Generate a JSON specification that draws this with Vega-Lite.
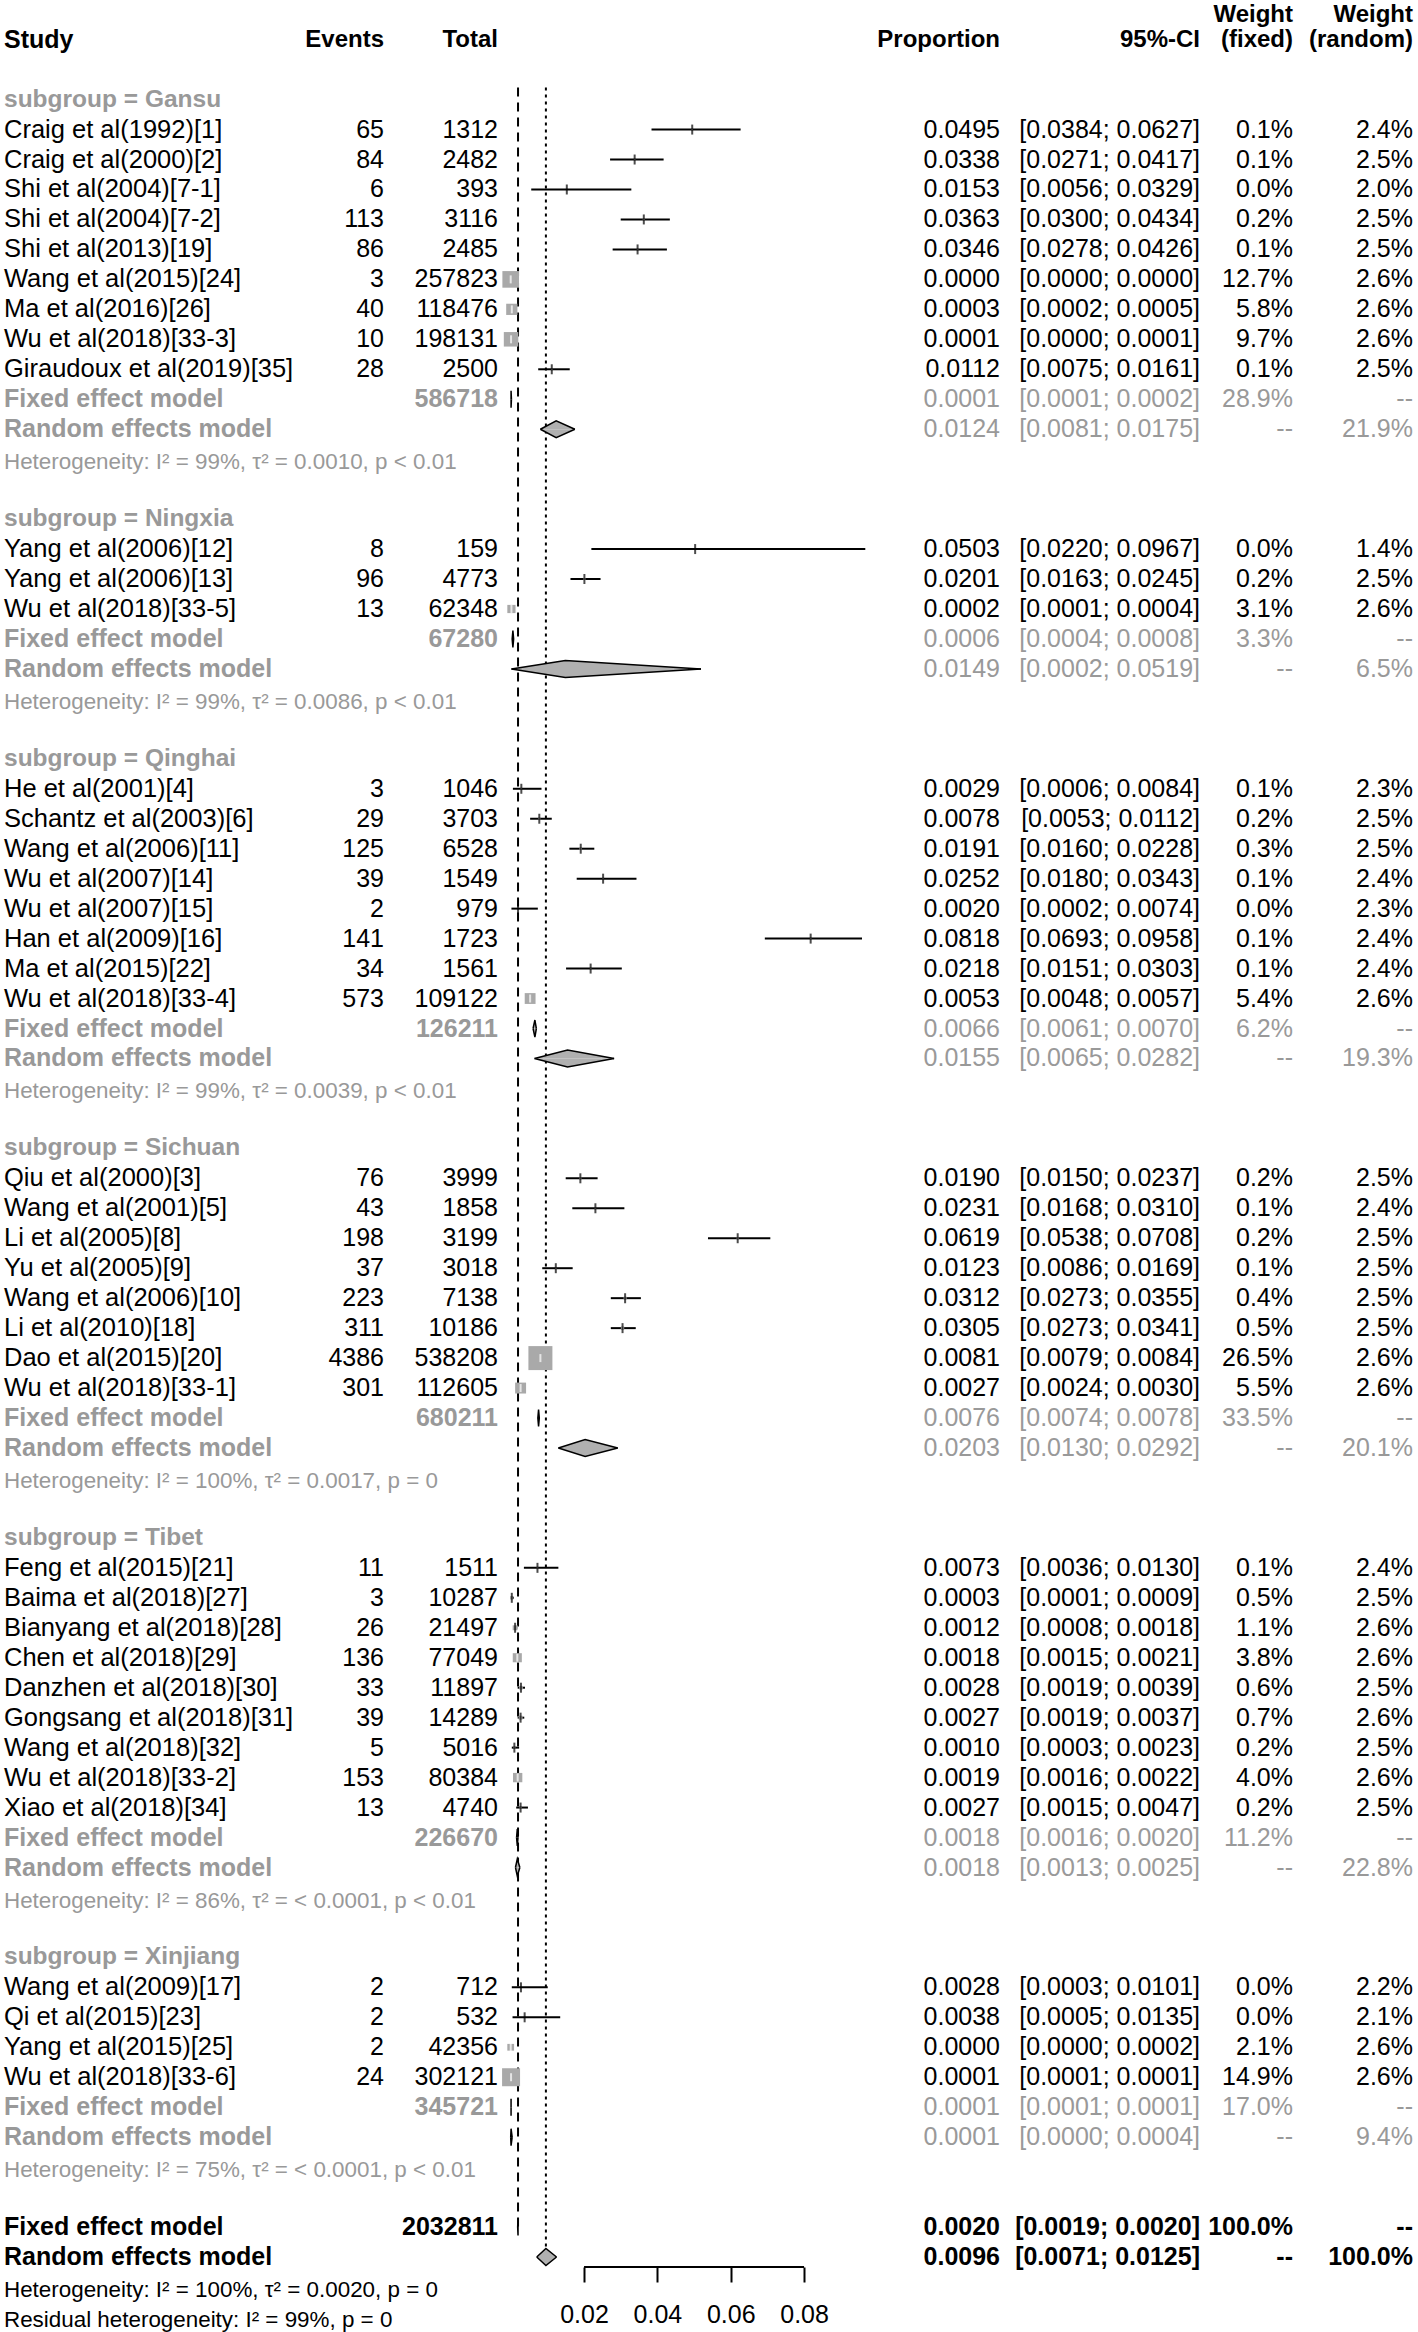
{
 "$schema": "https://vega.github.io/schema/vega-lite/v6.json",
 "padding": 0,
 "spacing": 0,
 "bounds": "flush",
 "background": "white",
 "config": {
  "view": {"stroke": null},
  "text": {"font": "Liberation Sans"},
  "axisX": {"domain": false, "grid": false, "tickSize": 15, "tickWidth": 2, "tickColor": "black", "labelFont": "Liberation Sans", "labelFontSize": 25, "labelColor": "black", "labelPadding": 20, "labelFlush": false, "labelOverlap": false}
 },
 "datasets": {
  "head": [{"row": 0, "study": "Study", "ev": "Events", "tot": "Total", "prop": "Proportion", "ci": "95%-CI", "wf": "(fixed)", "wr": "(random)", "w": "Weight"}],
  "dshape": [{"vk": "lo", "t": 0, "b": 0}, {"vk": "est", "t": 1, "b": -1}, {"vk": "up", "t": 0, "b": 0}],
  "rows": [
   {"row": 2, "kind": "sub", "label": "subgroup = Gansu"},
   {"row": 3, "kind": "study", "label": "Craig et al(1992)[1]", "ev": 65, "tot": 1312, "est": 0.0495, "lo": 0.0384, "up": 0.0627, "ci": "[0.0384; 0.0627]", "wf": 0.1, "wft": "0.1%", "wrt": "2.4%"},
   {"row": 4, "kind": "study", "label": "Craig et al(2000)[2]", "ev": 84, "tot": 2482, "est": 0.0338, "lo": 0.0271, "up": 0.0417, "ci": "[0.0271; 0.0417]", "wf": 0.1, "wft": "0.1%", "wrt": "2.5%"},
   {"row": 5, "kind": "study", "label": "Shi et al(2004)[7-1]", "ev": 6, "tot": 393, "est": 0.0153, "lo": 0.0056, "up": 0.0329, "ci": "[0.0056; 0.0329]", "wf": 0.0, "wft": "0.0%", "wrt": "2.0%"},
   {"row": 6, "kind": "study", "label": "Shi et al(2004)[7-2]", "ev": 113, "tot": 3116, "est": 0.0363, "lo": 0.0300, "up": 0.0434, "ci": "[0.0300; 0.0434]", "wf": 0.2, "wft": "0.2%", "wrt": "2.5%"},
   {"row": 7, "kind": "study", "label": "Shi et al(2013)[19]", "ev": 86, "tot": 2485, "est": 0.0346, "lo": 0.0278, "up": 0.0426, "ci": "[0.0278; 0.0426]", "wf": 0.1, "wft": "0.1%", "wrt": "2.5%"},
   {"row": 8, "kind": "study", "label": "Wang et al(2015)[24]", "ev": 3, "tot": 257823, "est": 0.0000, "lo": 0.0000, "up": 0.0000, "ci": "[0.0000; 0.0000]", "wf": 12.7, "wft": "12.7%", "wrt": "2.6%"},
   {"row": 9, "kind": "study", "label": "Ma et al(2016)[26]", "ev": 40, "tot": 118476, "est": 0.0003, "lo": 0.0002, "up": 0.0005, "ci": "[0.0002; 0.0005]", "wf": 5.8, "wft": "5.8%", "wrt": "2.6%"},
   {"row": 10, "kind": "study", "label": "Wu et al(2018)[33-3]", "ev": 10, "tot": 198131, "est": 0.0001, "lo": 0.0000, "up": 0.0001, "ci": "[0.0000; 0.0001]", "wf": 9.7, "wft": "9.7%", "wrt": "2.6%"},
   {"row": 11, "kind": "study", "label": "Giraudoux et al(2019)[35]", "ev": 28, "tot": 2500, "est": 0.0112, "lo": 0.0075, "up": 0.0161, "ci": "[0.0075; 0.0161]", "wf": 0.1, "wft": "0.1%", "wrt": "2.5%"},
   {"row": 12, "kind": "fix", "label": "Fixed effect model", "tot": 586718, "est": 0.0001, "lo": 0.0001, "up": 0.0002, "ci": "[0.0001; 0.0002]", "wft": "28.9%", "wrt": "--"},
   {"row": 13, "kind": "ran", "label": "Random effects model", "est": 0.0124, "lo": 0.0081, "up": 0.0175, "ci": "[0.0081; 0.0175]", "wft": "--", "wrt": "21.9%"},
   {"row": 14, "kind": "het", "label": "Heterogeneity: I² = 99%, τ² = 0.0010, p < 0.01"},
   {"row": 16, "kind": "sub", "label": "subgroup = Ningxia"},
   {"row": 17, "kind": "study", "label": "Yang et al(2006)[12]", "ev": 8, "tot": 159, "est": 0.0503, "lo": 0.0220, "up": 0.0967, "ci": "[0.0220; 0.0967]", "wf": 0.0, "wft": "0.0%", "wrt": "1.4%"},
   {"row": 18, "kind": "study", "label": "Yang et al(2006)[13]", "ev": 96, "tot": 4773, "est": 0.0201, "lo": 0.0163, "up": 0.0245, "ci": "[0.0163; 0.0245]", "wf": 0.2, "wft": "0.2%", "wrt": "2.5%"},
   {"row": 19, "kind": "study", "label": "Wu et al(2018)[33-5]", "ev": 13, "tot": 62348, "est": 0.0002, "lo": 0.0001, "up": 0.0004, "ci": "[0.0001; 0.0004]", "wf": 3.1, "wft": "3.1%", "wrt": "2.6%"},
   {"row": 20, "kind": "fix", "label": "Fixed effect model", "tot": 67280, "est": 0.0006, "lo": 0.0004, "up": 0.0008, "ci": "[0.0004; 0.0008]", "wft": "3.3%", "wrt": "--"},
   {"row": 21, "kind": "ran", "label": "Random effects model", "est": 0.0149, "lo": 0.0002, "up": 0.0519, "ci": "[0.0002; 0.0519]", "wft": "--", "wrt": "6.5%"},
   {"row": 22, "kind": "het", "label": "Heterogeneity: I² = 99%, τ² = 0.0086, p < 0.01"},
   {"row": 24, "kind": "sub", "label": "subgroup = Qinghai"},
   {"row": 25, "kind": "study", "label": "He et al(2001)[4]", "ev": 3, "tot": 1046, "est": 0.0029, "lo": 0.0006, "up": 0.0084, "ci": "[0.0006; 0.0084]", "wf": 0.1, "wft": "0.1%", "wrt": "2.3%"},
   {"row": 26, "kind": "study", "label": "Schantz et al(2003)[6]", "ev": 29, "tot": 3703, "est": 0.0078, "lo": 0.0053, "up": 0.0112, "ci": "[0.0053; 0.0112]", "wf": 0.2, "wft": "0.2%", "wrt": "2.5%"},
   {"row": 27, "kind": "study", "label": "Wang et al(2006)[11]", "ev": 125, "tot": 6528, "est": 0.0191, "lo": 0.0160, "up": 0.0228, "ci": "[0.0160; 0.0228]", "wf": 0.3, "wft": "0.3%", "wrt": "2.5%"},
   {"row": 28, "kind": "study", "label": "Wu et al(2007)[14]", "ev": 39, "tot": 1549, "est": 0.0252, "lo": 0.0180, "up": 0.0343, "ci": "[0.0180; 0.0343]", "wf": 0.1, "wft": "0.1%", "wrt": "2.4%"},
   {"row": 29, "kind": "study", "label": "Wu et al(2007)[15]", "ev": 2, "tot": 979, "est": 0.0020, "lo": 0.0002, "up": 0.0074, "ci": "[0.0002; 0.0074]", "wf": 0.0, "wft": "0.0%", "wrt": "2.3%"},
   {"row": 30, "kind": "study", "label": "Han et al(2009)[16]", "ev": 141, "tot": 1723, "est": 0.0818, "lo": 0.0693, "up": 0.0958, "ci": "[0.0693; 0.0958]", "wf": 0.1, "wft": "0.1%", "wrt": "2.4%"},
   {"row": 31, "kind": "study", "label": "Ma et al(2015)[22]", "ev": 34, "tot": 1561, "est": 0.0218, "lo": 0.0151, "up": 0.0303, "ci": "[0.0151; 0.0303]", "wf": 0.1, "wft": "0.1%", "wrt": "2.4%"},
   {"row": 32, "kind": "study", "label": "Wu et al(2018)[33-4]", "ev": 573, "tot": 109122, "est": 0.0053, "lo": 0.0048, "up": 0.0057, "ci": "[0.0048; 0.0057]", "wf": 5.4, "wft": "5.4%", "wrt": "2.6%"},
   {"row": 33, "kind": "fix", "label": "Fixed effect model", "tot": 126211, "est": 0.0066, "lo": 0.0061, "up": 0.0070, "ci": "[0.0061; 0.0070]", "wft": "6.2%", "wrt": "--"},
   {"row": 34, "kind": "ran", "label": "Random effects model", "est": 0.0155, "lo": 0.0065, "up": 0.0282, "ci": "[0.0065; 0.0282]", "wft": "--", "wrt": "19.3%"},
   {"row": 35, "kind": "het", "label": "Heterogeneity: I² = 99%, τ² = 0.0039, p < 0.01"},
   {"row": 37, "kind": "sub", "label": "subgroup = Sichuan"},
   {"row": 38, "kind": "study", "label": "Qiu et al(2000)[3]", "ev": 76, "tot": 3999, "est": 0.0190, "lo": 0.0150, "up": 0.0237, "ci": "[0.0150; 0.0237]", "wf": 0.2, "wft": "0.2%", "wrt": "2.5%"},
   {"row": 39, "kind": "study", "label": "Wang et al(2001)[5]", "ev": 43, "tot": 1858, "est": 0.0231, "lo": 0.0168, "up": 0.0310, "ci": "[0.0168; 0.0310]", "wf": 0.1, "wft": "0.1%", "wrt": "2.4%"},
   {"row": 40, "kind": "study", "label": "Li et al(2005)[8]", "ev": 198, "tot": 3199, "est": 0.0619, "lo": 0.0538, "up": 0.0708, "ci": "[0.0538; 0.0708]", "wf": 0.2, "wft": "0.2%", "wrt": "2.5%"},
   {"row": 41, "kind": "study", "label": "Yu et al(2005)[9]", "ev": 37, "tot": 3018, "est": 0.0123, "lo": 0.0086, "up": 0.0169, "ci": "[0.0086; 0.0169]", "wf": 0.1, "wft": "0.1%", "wrt": "2.5%"},
   {"row": 42, "kind": "study", "label": "Wang et al(2006)[10]", "ev": 223, "tot": 7138, "est": 0.0312, "lo": 0.0273, "up": 0.0355, "ci": "[0.0273; 0.0355]", "wf": 0.4, "wft": "0.4%", "wrt": "2.5%"},
   {"row": 43, "kind": "study", "label": "Li et al(2010)[18]", "ev": 311, "tot": 10186, "est": 0.0305, "lo": 0.0273, "up": 0.0341, "ci": "[0.0273; 0.0341]", "wf": 0.5, "wft": "0.5%", "wrt": "2.5%"},
   {"row": 44, "kind": "study", "label": "Dao et al(2015)[20]", "ev": 4386, "tot": 538208, "est": 0.0081, "lo": 0.0079, "up": 0.0084, "ci": "[0.0079; 0.0084]", "wf": 26.5, "wft": "26.5%", "wrt": "2.6%"},
   {"row": 45, "kind": "study", "label": "Wu et al(2018)[33-1]", "ev": 301, "tot": 112605, "est": 0.0027, "lo": 0.0024, "up": 0.0030, "ci": "[0.0024; 0.0030]", "wf": 5.5, "wft": "5.5%", "wrt": "2.6%"},
   {"row": 46, "kind": "fix", "label": "Fixed effect model", "tot": 680211, "est": 0.0076, "lo": 0.0074, "up": 0.0078, "ci": "[0.0074; 0.0078]", "wft": "33.5%", "wrt": "--"},
   {"row": 47, "kind": "ran", "label": "Random effects model", "est": 0.0203, "lo": 0.0130, "up": 0.0292, "ci": "[0.0130; 0.0292]", "wft": "--", "wrt": "20.1%"},
   {"row": 48, "kind": "het", "label": "Heterogeneity: I² = 100%, τ² = 0.0017, p = 0"},
   {"row": 50, "kind": "sub", "label": "subgroup = Tibet"},
   {"row": 51, "kind": "study", "label": "Feng et al(2015)[21]", "ev": 11, "tot": 1511, "est": 0.0073, "lo": 0.0036, "up": 0.0130, "ci": "[0.0036; 0.0130]", "wf": 0.1, "wft": "0.1%", "wrt": "2.4%"},
   {"row": 52, "kind": "study", "label": "Baima et al(2018)[27]", "ev": 3, "tot": 10287, "est": 0.0003, "lo": 0.0001, "up": 0.0009, "ci": "[0.0001; 0.0009]", "wf": 0.5, "wft": "0.5%", "wrt": "2.5%"},
   {"row": 53, "kind": "study", "label": "Bianyang et al(2018)[28]", "ev": 26, "tot": 21497, "est": 0.0012, "lo": 0.0008, "up": 0.0018, "ci": "[0.0008; 0.0018]", "wf": 1.1, "wft": "1.1%", "wrt": "2.6%"},
   {"row": 54, "kind": "study", "label": "Chen et al(2018)[29]", "ev": 136, "tot": 77049, "est": 0.0018, "lo": 0.0015, "up": 0.0021, "ci": "[0.0015; 0.0021]", "wf": 3.8, "wft": "3.8%", "wrt": "2.6%"},
   {"row": 55, "kind": "study", "label": "Danzhen et al(2018)[30]", "ev": 33, "tot": 11897, "est": 0.0028, "lo": 0.0019, "up": 0.0039, "ci": "[0.0019; 0.0039]", "wf": 0.6, "wft": "0.6%", "wrt": "2.5%"},
   {"row": 56, "kind": "study", "label": "Gongsang et al(2018)[31]", "ev": 39, "tot": 14289, "est": 0.0027, "lo": 0.0019, "up": 0.0037, "ci": "[0.0019; 0.0037]", "wf": 0.7, "wft": "0.7%", "wrt": "2.6%"},
   {"row": 57, "kind": "study", "label": "Wang et al(2018)[32]", "ev": 5, "tot": 5016, "est": 0.0010, "lo": 0.0003, "up": 0.0023, "ci": "[0.0003; 0.0023]", "wf": 0.2, "wft": "0.2%", "wrt": "2.5%"},
   {"row": 58, "kind": "study", "label": "Wu et al(2018)[33-2]", "ev": 153, "tot": 80384, "est": 0.0019, "lo": 0.0016, "up": 0.0022, "ci": "[0.0016; 0.0022]", "wf": 4.0, "wft": "4.0%", "wrt": "2.6%"},
   {"row": 59, "kind": "study", "label": "Xiao et al(2018)[34]", "ev": 13, "tot": 4740, "est": 0.0027, "lo": 0.0015, "up": 0.0047, "ci": "[0.0015; 0.0047]", "wf": 0.2, "wft": "0.2%", "wrt": "2.5%"},
   {"row": 60, "kind": "fix", "label": "Fixed effect model", "tot": 226670, "est": 0.0018, "lo": 0.0016, "up": 0.0020, "ci": "[0.0016; 0.0020]", "wft": "11.2%", "wrt": "--"},
   {"row": 61, "kind": "ran", "label": "Random effects model", "est": 0.0018, "lo": 0.0013, "up": 0.0025, "ci": "[0.0013; 0.0025]", "wft": "--", "wrt": "22.8%"},
   {"row": 62, "kind": "het", "label": "Heterogeneity: I² = 86%, τ² = < 0.0001, p < 0.01"},
   {"row": 64, "kind": "sub", "label": "subgroup = Xinjiang"},
   {"row": 65, "kind": "study", "label": "Wang et al(2009)[17]", "ev": 2, "tot": 712, "est": 0.0028, "lo": 0.0003, "up": 0.0101, "ci": "[0.0003; 0.0101]", "wf": 0.0, "wft": "0.0%", "wrt": "2.2%"},
   {"row": 66, "kind": "study", "label": "Qi et al(2015)[23]", "ev": 2, "tot": 532, "est": 0.0038, "lo": 0.0005, "up": 0.0135, "ci": "[0.0005; 0.0135]", "wf": 0.0, "wft": "0.0%", "wrt": "2.1%"},
   {"row": 67, "kind": "study", "label": "Yang et al(2015)[25]", "ev": 2, "tot": 42356, "est": 0.0000, "lo": 0.0000, "up": 0.0002, "ci": "[0.0000; 0.0002]", "wf": 2.1, "wft": "2.1%", "wrt": "2.6%"},
   {"row": 68, "kind": "study", "label": "Wu et al(2018)[33-6]", "ev": 24, "tot": 302121, "est": 0.0001, "lo": 0.0001, "up": 0.0001, "ci": "[0.0001; 0.0001]", "wf": 14.9, "wft": "14.9%", "wrt": "2.6%"},
   {"row": 69, "kind": "fix", "label": "Fixed effect model", "tot": 345721, "est": 0.0001, "lo": 0.0001, "up": 0.0001, "ci": "[0.0001; 0.0001]", "wft": "17.0%", "wrt": "--"},
   {"row": 70, "kind": "ran", "label": "Random effects model", "est": 0.0001, "lo": 0.0000, "up": 0.0004, "ci": "[0.0000; 0.0004]", "wft": "--", "wrt": "9.4%"},
   {"row": 71, "kind": "het", "label": "Heterogeneity: I² = 75%, τ² = < 0.0001, p < 0.01"},
   {"row": 73, "kind": "ofix", "label": "Fixed effect model", "tot": 2032811, "est": 0.0020, "lo": 0.0019, "up": 0.0020, "ci": "[0.0019; 0.0020]", "wft": "100.0%", "wrt": "--"},
   {"row": 74, "kind": "oran", "label": "Random effects model", "est": 0.0096, "lo": 0.0071, "up": 0.0125, "ci": "[0.0071; 0.0125]", "wft": "--", "wrt": "100.0%"},
   {"row": 75, "kind": "ohet", "label": "Heterogeneity: I² = 100%, τ² = 0.0020, p = 0"},
   {"row": 76, "kind": "ohet", "label": "Residual heterogeneity: I² = 99%, p = 0"}
  ]
 },
 "hconcat": [
  {
   "width": 300, "height": 2332,
   "encoding": {"y": {"field": "row", "type": "ordinal", "axis": null, "scale": {"type": "band", "domain": [0,1,2,3,4,5,6,7,8,9,10,11,12,13,14,15,16,17,18,19,20,21,22,23,24,25,26,27,28,29,30,31,32,33,34,35,36,37,38,39,40,41,42,43,44,45,46,47,48,49,50,51,52,53,54,55,56,57,58,59,60,61,62,63,64,65,66,67,68,69,70,71,72,73,74,75,76], "paddingInner": 0, "paddingOuter": 0.412, "align": 1}}},
   "layer": [
    {"data": {"name": "head"}, "mark": {"type": "text", "align": "left", "dx": 4, "fontSize": 25, "fontWeight": "bold", "color": "black"}, "encoding": {"x": {"value": 0}, "text": {"field": "study", "type": "nominal"}}},
    {"data": {"name": "rows"}, "transform": [{"filter": "datum.kind == 'study'"}], "mark": {"type": "text", "align": "left", "dx": 4, "fontSize": 25.5, "color": "black"}, "encoding": {"x": {"value": 0}, "text": {"field": "label", "type": "nominal"}}},
    {"data": {"name": "rows"}, "transform": [{"filter": "datum.kind == 'sub'"}], "mark": {"type": "text", "align": "left", "dx": 4, "fontSize": 24.5, "fontWeight": "bold"}, "encoding": {"x": {"value": 0}, "text": {"field": "label", "type": "nominal"}, "color": {"field": "kind", "type": "nominal", "legend": null, "scale": {"domain": ["study","sub","fix","ran","het","ofix","oran","ohet"], "range": ["#000000","#999999","#999999","#999999","#999999","#000000","#000000","#000000"]}}}},
    {"data": {"name": "rows"}, "transform": [{"filter": "datum.kind == 'fix' || datum.kind == 'ran' || datum.kind == 'ofix' || datum.kind == 'oran'"}], "mark": {"type": "text", "align": "left", "dx": 4, "fontSize": 25, "fontWeight": "bold"}, "encoding": {"x": {"value": 0}, "text": {"field": "label", "type": "nominal"}, "color": {"field": "kind", "type": "nominal", "legend": null}}},
    {"data": {"name": "rows"}, "transform": [{"filter": "datum.kind == 'het' || datum.kind == 'ohet'"}], "mark": {"type": "text", "align": "left", "dx": 4, "dy": 3, "fontSize": 22.4}, "encoding": {"x": {"value": 0}, "text": {"field": "label", "type": "nominal"}, "color": {"field": "kind", "type": "nominal", "legend": null}}}
   ]
  },
  {
   "width": 84, "height": 2332,
   "encoding": {"y": {"field": "row", "type": "ordinal", "axis": null, "scale": {"type": "band", "domain": [0,1,2,3,4,5,6,7,8,9,10,11,12,13,14,15,16,17,18,19,20,21,22,23,24,25,26,27,28,29,30,31,32,33,34,35,36,37,38,39,40,41,42,43,44,45,46,47,48,49,50,51,52,53,54,55,56,57,58,59,60,61,62,63,64,65,66,67,68,69,70,71,72,73,74,75,76], "paddingInner": 0, "paddingOuter": 0.412, "align": 1}}},
   "layer": [
    {"data": {"name": "head"}, "mark": {"type": "text", "align": "right", "fontSize": 24, "fontWeight": "bold", "color": "black"}, "encoding": {"x": {"value": "width"}, "text": {"field": "ev", "type": "nominal"}}},
    {"data": {"name": "rows"}, "transform": [{"filter": "datum.kind == 'study'"}], "mark": {"type": "text", "align": "right", "fontSize": 25, "color": "black"}, "encoding": {"x": {"value": "width"}, "text": {"field": "ev", "type": "nominal"}}}
   ]
  },
  {
   "width": 114, "height": 2332,
   "encoding": {"y": {"field": "row", "type": "ordinal", "axis": null, "scale": {"type": "band", "domain": [0,1,2,3,4,5,6,7,8,9,10,11,12,13,14,15,16,17,18,19,20,21,22,23,24,25,26,27,28,29,30,31,32,33,34,35,36,37,38,39,40,41,42,43,44,45,46,47,48,49,50,51,52,53,54,55,56,57,58,59,60,61,62,63,64,65,66,67,68,69,70,71,72,73,74,75,76], "paddingInner": 0, "paddingOuter": 0.412, "align": 1}}},
   "layer": [
    {"data": {"name": "head"}, "mark": {"type": "text", "align": "right", "fontSize": 24, "fontWeight": "bold", "color": "black"}, "encoding": {"x": {"value": "width"}, "text": {"field": "tot", "type": "nominal"}}},
    {"data": {"name": "rows"}, "transform": [{"filter": "datum.kind == 'study'"}], "mark": {"type": "text", "align": "right", "fontSize": 25, "color": "black"}, "encoding": {"x": {"value": "width"}, "text": {"field": "tot", "type": "nominal"}}},
    {"data": {"name": "rows"}, "transform": [{"filter": "datum.kind == 'fix' || datum.kind == 'ofix'"}], "mark": {"type": "text", "align": "right", "fontSize": 25, "fontWeight": "bold"}, "encoding": {"x": {"value": "width"}, "text": {"field": "tot", "type": "nominal"}, "color": {"field": "kind", "type": "nominal", "legend": null}}}
   ]
  },
  {
   "width": 382, "height": 2272,
   "data": {"name": "rows"},
   "encoding": {"y": {"field": "row", "type": "ordinal", "axis": null, "scale": {"type": "band", "domain": [0,1,2,3,4,5,6,7,8,9,10,11,12,13,14,15,16,17,18,19,20,21,22,23,24,25,26,27,28,29,30,31,32,33,34,35,36,37,38,39,40,41,42,43,44,45,46,47,48,49,50,51,52,53,54,55,56,57,58,59,60,61,62,63,64,65,66,67,68,69,70,71,72,73,74], "paddingInner": 0, "paddingOuter": 0.412, "align": 1}}},
   "layer": [
    {"transform": [{"filter": "datum.kind == 'ofix'"}], "mark": {"type": "rule", "strokeDash": [9, 6], "strokeWidth": 2, "color": "black"}, "encoding": {"x": {"field": "est", "type": "quantitative", "scale": {"domain": [-0.003463, 0.100709], "nice": false, "zero": false}, "axis": {"values": [0.02, 0.04, 0.06, 0.08], "title": null, "format": ".2f", "offset": -5}}, "y": {"datum": 2, "type": "ordinal", "bandPosition": 0.1}, "y2": {"field": "row"}}},
    {"transform": [{"filter": "datum.kind == 'oran'"}], "mark": {"type": "rule", "strokeDash": [3, 4], "strokeWidth": 2, "color": "black"}, "encoding": {"x": {"field": "est", "type": "quantitative", "axis": {"values": [0.02, 0.04, 0.06, 0.08], "title": null, "format": ".2f", "offset": -5}}, "y": {"datum": 2, "type": "ordinal", "bandPosition": 0.1}, "y2": {"field": "row"}}},
    {"transform": [{"filter": "datum.kind == 'study'"}], "mark": {"type": "rule", "strokeWidth": 2, "color": "black"}, "encoding": {"x": {"field": "lo", "type": "quantitative", "axis": {"values": [0.02, 0.04, 0.06, 0.08], "title": null, "format": ".2f", "offset": -5}}, "x2": {"field": "up"}}},
    {"transform": [{"filter": "datum.kind == 'study' && datum.wf > 0"}], "mark": {"type": "square", "color": "#A9A9A9", "opacity": 1, "filled": true}, "encoding": {"x": {"field": "est", "type": "quantitative", "axis": {"values": [0.02, 0.04, 0.06, 0.08], "title": null, "format": ".2f", "offset": -5}}, "size": {"field": "wf", "type": "quantitative", "legend": null, "scale": {"domain": [0, 26.5], "range": [0, 576]}}}},
    {"transform": [{"filter": "datum.kind == 'study' && datum.wf < 2"}], "mark": {"type": "tick", "color": "black", "thickness": 2, "size": 10}, "encoding": {"x": {"field": "est", "type": "quantitative", "axis": {"values": [0.02, 0.04, 0.06, 0.08], "title": null, "format": ".2f", "offset": -5}}}},
    {"transform": [{"filter": "datum.kind == 'study' && datum.wf >= 2"}], "mark": {"type": "tick", "color": "white", "thickness": 2, "size": 8}, "encoding": {"x": {"field": "est", "type": "quantitative", "axis": {"values": [0.02, 0.04, 0.06, 0.08], "title": null, "format": ".2f", "offset": -5}}}},
    {"transform": [{"filter": "datum.kind == 'fix' || datum.kind == 'ran' || datum.kind == 'ofix' || datum.kind == 'oran'"}, {"fold": ["lo", "est", "up"], "as": ["vk", "vx"]}, {"lookup": "vk", "from": {"data": {"name": "dshape"}, "key": "vk", "fields": ["t", "b"]}}], "mark": {"type": "area", "orient": "vertical", "color": "#B0B0B0", "opacity": 1}, "encoding": {"x": {"field": "vx", "type": "quantitative", "stack": null, "axis": {"values": [0.02, 0.04, 0.06, 0.08], "title": null, "format": ".2f", "offset": -5}}, "y2": {"field": "row"}, "yOffset": {"field": "t", "type": "quantitative", "scale": {"domain": [-1, 1], "range": [23.5, 6.5]}}, "detail": {"field": "row"}}},
    {"transform": [{"filter": "datum.kind == 'fix' || datum.kind == 'ran' || datum.kind == 'ofix' || datum.kind == 'oran'"}, {"fold": ["lo", "est", "up"], "as": ["vk", "vx"]}, {"lookup": "vk", "from": {"data": {"name": "dshape"}, "key": "vk", "fields": ["t", "b"]}}], "mark": {"type": "area", "orient": "vertical", "color": "#B0B0B0", "opacity": 1}, "encoding": {"x": {"field": "vx", "type": "quantitative", "stack": null, "axis": {"values": [0.02, 0.04, 0.06, 0.08], "title": null, "format": ".2f", "offset": -5}}, "y2": {"field": "row"}, "yOffset": {"field": "b", "type": "quantitative"}, "detail": {"field": "row"}}},
    {"transform": [{"filter": "datum.kind == 'fix' || datum.kind == 'ran' || datum.kind == 'ofix' || datum.kind == 'oran'"}, {"fold": ["lo", "est", "up"], "as": ["vk", "vx"]}, {"lookup": "vk", "from": {"data": {"name": "dshape"}, "key": "vk", "fields": ["t", "b"]}}], "mark": {"type": "line", "color": "black", "strokeWidth": 1.5}, "encoding": {"x": {"field": "vx", "type": "quantitative", "axis": {"values": [0.02, 0.04, 0.06, 0.08], "title": null, "format": ".2f", "offset": -5}}, "yOffset": {"field": "t", "type": "quantitative"}, "detail": {"field": "row"}, "order": {"field": "vx", "type": "quantitative"}}},
    {"transform": [{"filter": "datum.kind == 'fix' || datum.kind == 'ran' || datum.kind == 'ofix' || datum.kind == 'oran'"}, {"fold": ["lo", "est", "up"], "as": ["vk", "vx"]}, {"lookup": "vk", "from": {"data": {"name": "dshape"}, "key": "vk", "fields": ["t", "b"]}}], "mark": {"type": "line", "color": "black", "strokeWidth": 1.5}, "encoding": {"x": {"field": "vx", "type": "quantitative", "axis": {"values": [0.02, 0.04, 0.06, 0.08], "title": null, "format": ".2f", "offset": -5}}, "yOffset": {"field": "b", "type": "quantitative"}, "detail": {"field": "row"}, "order": {"field": "vx", "type": "quantitative"}}},
    {"data": {"values": [{"a": 1}]}, "mark": {"type": "rule", "strokeWidth": 2, "color": "black"}, "encoding": {"x": {"datum": 0.02, "type": "quantitative", "axis": {"values": [0.02, 0.04, 0.06, 0.08], "title": null, "format": ".2f", "offset": -5}}, "x2": {"datum": 0.08}, "y": {"datum": 74, "type": "ordinal", "bandPosition": 0.83}}}
   ]
  },
  {
   "width": 120, "height": 2332,
   "encoding": {"y": {"field": "row", "type": "ordinal", "axis": null, "scale": {"type": "band", "domain": [0,1,2,3,4,5,6,7,8,9,10,11,12,13,14,15,16,17,18,19,20,21,22,23,24,25,26,27,28,29,30,31,32,33,34,35,36,37,38,39,40,41,42,43,44,45,46,47,48,49,50,51,52,53,54,55,56,57,58,59,60,61,62,63,64,65,66,67,68,69,70,71,72,73,74,75,76], "paddingInner": 0, "paddingOuter": 0.412, "align": 1}}},
   "layer": [
    {"data": {"name": "head"}, "mark": {"type": "text", "align": "right", "fontSize": 24, "fontWeight": "bold", "color": "black"}, "encoding": {"x": {"value": "width"}, "text": {"field": "prop", "type": "nominal"}}},
    {"data": {"name": "rows"}, "transform": [{"filter": "datum.kind == 'study' || datum.kind == 'fix' || datum.kind == 'ran'"}], "mark": {"type": "text", "align": "right", "fontSize": 25}, "encoding": {"x": {"value": "width"}, "text": {"field": "est", "type": "quantitative", "format": ".4f"}, "color": {"field": "kind", "type": "nominal", "legend": null}}},
    {"data": {"name": "rows"}, "transform": [{"filter": "datum.kind == 'ofix' || datum.kind == 'oran'"}], "mark": {"type": "text", "align": "right", "fontSize": 25, "fontWeight": "bold", "color": "black"}, "encoding": {"x": {"value": "width"}, "text": {"field": "est", "type": "quantitative", "format": ".4f"}}}
   ]
  },
  {
   "width": 200, "height": 2332,
   "encoding": {"y": {"field": "row", "type": "ordinal", "axis": null, "scale": {"type": "band", "domain": [0,1,2,3,4,5,6,7,8,9,10,11,12,13,14,15,16,17,18,19,20,21,22,23,24,25,26,27,28,29,30,31,32,33,34,35,36,37,38,39,40,41,42,43,44,45,46,47,48,49,50,51,52,53,54,55,56,57,58,59,60,61,62,63,64,65,66,67,68,69,70,71,72,73,74,75,76], "paddingInner": 0, "paddingOuter": 0.412, "align": 1}}},
   "layer": [
    {"data": {"name": "head"}, "mark": {"type": "text", "align": "right", "fontSize": 24, "fontWeight": "bold", "color": "black"}, "encoding": {"x": {"value": "width"}, "text": {"field": "ci", "type": "nominal"}}},
    {"data": {"name": "rows"}, "transform": [{"filter": "datum.kind == 'study' || datum.kind == 'fix' || datum.kind == 'ran'"}], "mark": {"type": "text", "align": "right", "fontSize": 25}, "encoding": {"x": {"value": "width"}, "text": {"field": "ci", "type": "nominal"}, "color": {"field": "kind", "type": "nominal", "legend": null}}},
    {"data": {"name": "rows"}, "transform": [{"filter": "datum.kind == 'ofix' || datum.kind == 'oran'"}], "mark": {"type": "text", "align": "right", "fontSize": 25, "fontWeight": "bold", "color": "black"}, "encoding": {"x": {"value": "width"}, "text": {"field": "ci", "type": "nominal"}}}
   ]
  },
  {
   "width": 93, "height": 2332,
   "encoding": {"y": {"field": "row", "type": "ordinal", "axis": null, "scale": {"type": "band", "domain": [0,1,2,3,4,5,6,7,8,9,10,11,12,13,14,15,16,17,18,19,20,21,22,23,24,25,26,27,28,29,30,31,32,33,34,35,36,37,38,39,40,41,42,43,44,45,46,47,48,49,50,51,52,53,54,55,56,57,58,59,60,61,62,63,64,65,66,67,68,69,70,71,72,73,74,75,76], "paddingInner": 0, "paddingOuter": 0.412, "align": 1}}},
   "layer": [
    {"data": {"name": "head"}, "mark": {"type": "text", "align": "right", "fontSize": 24, "fontWeight": "bold", "color": "black"}, "encoding": {"x": {"value": "width"}, "text": {"field": "wf", "type": "nominal"}}},
    {"data": {"name": "head"}, "mark": {"type": "text", "align": "right", "dy": -25, "fontSize": 24, "fontWeight": "bold", "color": "black"}, "encoding": {"x": {"value": "width"}, "text": {"field": "w", "type": "nominal"}}},
    {"data": {"name": "rows"}, "transform": [{"filter": "datum.kind == 'study' || datum.kind == 'fix' || datum.kind == 'ran'"}], "mark": {"type": "text", "align": "right", "fontSize": 25}, "encoding": {"x": {"value": "width"}, "text": {"field": "wft", "type": "nominal"}, "color": {"field": "kind", "type": "nominal", "legend": null}}},
    {"data": {"name": "rows"}, "transform": [{"filter": "datum.kind == 'ofix' || datum.kind == 'oran'"}], "mark": {"type": "text", "align": "right", "fontSize": 25, "fontWeight": "bold", "color": "black"}, "encoding": {"x": {"value": "width"}, "text": {"field": "wft", "type": "nominal"}}}
   ]
  },
  {
   "width": 125, "height": 2332,
   "encoding": {"y": {"field": "row", "type": "ordinal", "axis": null, "scale": {"type": "band", "domain": [0,1,2,3,4,5,6,7,8,9,10,11,12,13,14,15,16,17,18,19,20,21,22,23,24,25,26,27,28,29,30,31,32,33,34,35,36,37,38,39,40,41,42,43,44,45,46,47,48,49,50,51,52,53,54,55,56,57,58,59,60,61,62,63,64,65,66,67,68,69,70,71,72,73,74,75,76], "paddingInner": 0, "paddingOuter": 0.412, "align": 1}}},
   "layer": [
    {"data": {"name": "head"}, "mark": {"type": "text", "align": "right", "dx": -5, "fontSize": 24, "fontWeight": "bold", "color": "black"}, "encoding": {"x": {"value": "width"}, "text": {"field": "wr", "type": "nominal"}}},
    {"data": {"name": "head"}, "mark": {"type": "text", "align": "right", "dx": -5, "dy": -25, "fontSize": 24, "fontWeight": "bold", "color": "black"}, "encoding": {"x": {"value": "width"}, "text": {"field": "w", "type": "nominal"}}},
    {"data": {"name": "rows"}, "transform": [{"filter": "datum.kind == 'study' || datum.kind == 'fix' || datum.kind == 'ran'"}], "mark": {"type": "text", "align": "right", "dx": -5, "fontSize": 25}, "encoding": {"x": {"value": "width"}, "text": {"field": "wrt", "type": "nominal"}, "color": {"field": "kind", "type": "nominal", "legend": null}}},
    {"data": {"name": "rows"}, "transform": [{"filter": "datum.kind == 'ofix' || datum.kind == 'oran'"}], "mark": {"type": "text", "align": "right", "dx": -5, "fontSize": 25, "fontWeight": "bold", "color": "black"}, "encoding": {"x": {"value": "width"}, "text": {"field": "wrt", "type": "nominal"}}}
   ]
  }
 ]
}
